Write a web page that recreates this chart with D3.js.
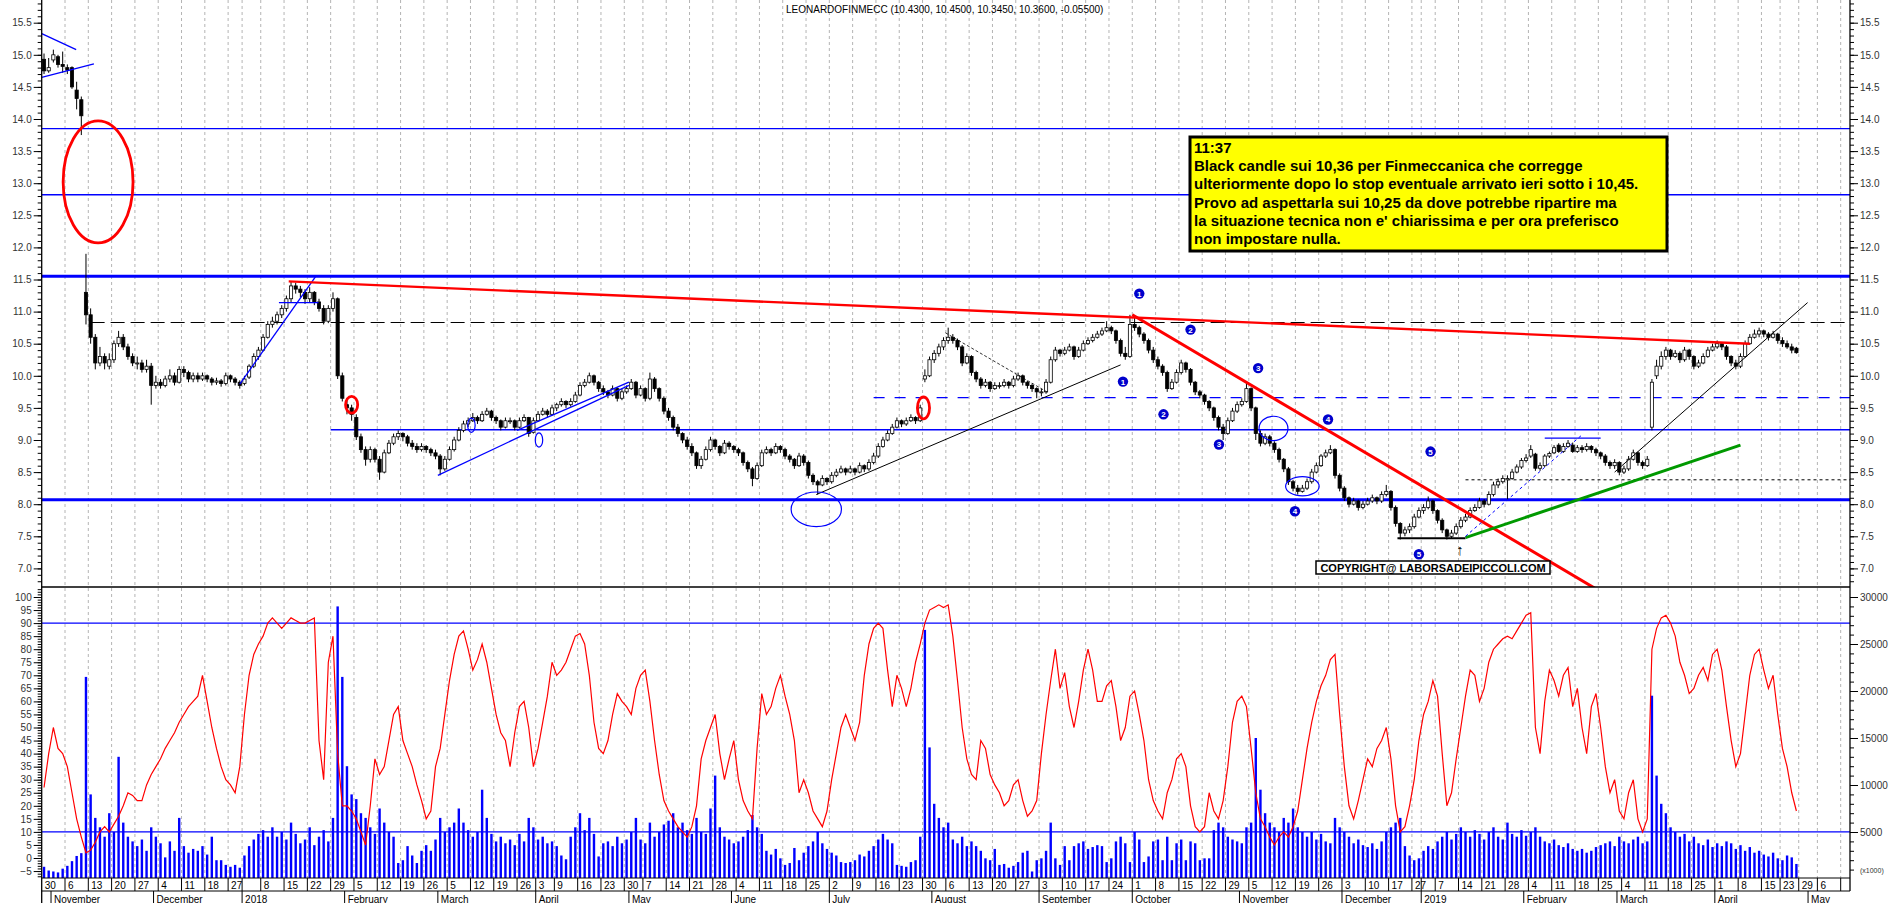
<!DOCTYPE html>
<html>
<head>
<meta charset="utf-8">
<script src="https://cdn.jsdelivr.net/npm/d3@7"></script>
<style>
  body { margin: 0; background: #fff; }
  text { font-family: "Liberation Sans", Arial, sans-serif; }
</style>
</head>
<body>
<div id="chart"></div>
<script>
// ---- data: daily candles, one entry per trading day from 30 Oct 2017 to 26 Apr 2019 ----
var opens = [
14.93,14.75,14.92,14.97,14.85,14.80,14.80,14.45,14.30,11.30,
10.95,10.60,10.20,10.30,10.15,10.25,10.50,10.60,10.45,10.30,
10.20,10.20,10.10,10.15,9.85,9.90,9.85,9.95,10.00,9.90,
10.10,10.05,9.95,10.00,9.95,10.00,9.95,9.90,9.92,9.88,
10.00,9.95,9.90,9.88,9.98,10.15,10.30,10.40,10.60,10.80,
10.85,10.95,11.05,11.20,11.40,11.35,11.30,11.20,11.30,11.15,
11.05,10.85,11.05,11.20,10.00,9.55,9.50,9.35,9.05,8.85,
8.70,8.85,8.70,8.50,8.80,8.95,9.05,9.10,9.05,8.95,
8.90,8.85,8.90,8.85,8.80,8.75,8.55,8.70,8.85,9.00,
9.15,9.25,9.30,9.35,9.30,9.40,9.45,9.35,9.30,9.20,
9.30,9.30,9.20,9.30,9.35,9.12,9.30,9.40,9.45,9.40,
9.50,9.55,9.60,9.55,9.60,9.70,9.85,9.90,10.00,9.90,
9.80,9.75,9.70,9.80,9.65,9.75,9.80,9.90,9.70,9.80,
9.65,9.95,9.80,9.65,9.45,9.35,9.20,9.10,9.00,8.90,
8.80,8.60,8.70,8.85,9.00,8.90,8.80,8.95,8.90,8.85,
8.80,8.65,8.55,8.40,8.60,8.80,8.85,8.80,8.90,8.85,
8.75,8.70,8.60,8.75,8.65,8.45,8.35,8.30,8.40,8.35,
8.45,8.50,8.55,8.50,8.55,8.50,8.60,8.55,8.65,8.75,
8.90,9.00,9.10,9.20,9.30,9.25,9.30,9.35,9.30,9.95,
10.00,10.25,10.35,10.45,10.55,10.60,10.55,10.45,10.20,10.30,
10.05,9.95,9.85,9.90,9.80,9.85,9.85,9.90,9.85,9.95,
10.00,9.90,9.85,9.80,9.75,9.75,9.90,10.25,10.40,10.35,
10.40,10.45,10.30,10.40,10.50,10.55,10.60,10.65,10.70,10.75,
10.70,10.55,10.35,10.30,10.80,10.75,10.65,10.55,10.40,10.25,
10.15,10.05,9.80,9.90,10.05,10.20,10.10,9.90,9.75,9.70,
9.60,9.50,9.35,9.20,9.10,9.30,9.45,9.55,9.60,9.80,
9.50,9.10,8.95,9.05,8.95,8.85,8.70,8.55,8.35,8.25,
8.20,8.25,8.35,8.50,8.60,8.75,8.80,8.85,8.45,8.25,
8.10,8.00,8.05,7.95,8.00,8.05,8.10,8.05,8.15,8.20,
7.95,7.70,7.55,7.60,7.65,7.80,7.90,7.95,8.05,7.90,
7.75,7.60,7.50,7.55,7.65,7.75,7.80,7.90,7.95,8.05,
8.00,8.15,8.30,8.35,8.38,8.40,8.50,8.58,8.68,8.75,
8.78,8.56,8.60,8.75,8.80,8.92,8.82,8.90,8.92,8.82,
8.88,8.85,8.90,8.85,8.80,8.75,8.65,8.60,8.65,8.50,
8.55,8.70,8.80,8.65,8.60,9.20,10.00,10.15,10.30,10.40,
10.30,10.35,10.25,10.40,10.30,10.15,10.20,10.30,10.40,10.45,
10.50,10.45,10.30,10.20,10.15,10.30,10.50,10.60,10.65,10.70,
10.65,10.60,10.65,10.55,10.50,10.45,10.43];

var highs = [
15.02,14.95,15.08,15.00,15.05,14.85,14.82,14.58,14.35,11.90,
11.05,10.65,10.45,10.35,10.35,10.55,10.70,10.65,10.50,10.35,
10.30,10.25,10.25,10.20,10.00,9.95,10.00,10.10,10.05,10.15,
10.15,10.08,10.05,10.05,10.05,10.02,9.98,9.97,9.95,10.05,
10.02,9.98,9.93,10.00,10.18,10.35,10.45,10.65,10.85,10.92,
11.00,11.10,11.25,11.47,11.45,11.40,11.35,11.38,11.32,11.20,
11.10,11.10,11.30,11.22,10.05,9.65,9.55,9.40,9.10,8.90,
8.90,8.88,8.75,8.85,9.00,9.10,9.15,9.12,9.08,9.00,
8.95,8.95,8.92,8.88,8.85,8.78,8.75,8.90,9.05,9.20,
9.30,9.35,9.42,9.38,9.45,9.50,9.47,9.38,9.32,9.35,
9.35,9.32,9.35,9.40,9.36,9.35,9.45,9.50,9.48,9.55,
9.58,9.65,9.62,9.65,9.75,9.90,9.95,10.05,10.02,9.92,
9.85,9.78,9.85,9.82,9.80,9.85,9.95,9.92,9.85,9.82,
10.05,9.98,9.82,9.68,9.50,9.38,9.25,9.12,9.05,8.95,
8.82,8.75,8.90,9.05,9.02,8.92,9.00,8.98,8.92,8.88,
8.82,8.68,8.58,8.65,8.85,8.90,8.88,8.95,8.92,8.88,
8.78,8.72,8.80,8.78,8.68,8.48,8.38,8.45,8.42,8.50,
8.55,8.60,8.57,8.60,8.57,8.65,8.62,8.70,8.80,8.95,
9.05,9.15,9.25,9.35,9.32,9.35,9.40,9.37,9.55,10.10,
10.30,10.40,10.50,10.60,10.75,10.65,10.58,10.48,10.35,10.32,
10.08,9.98,9.95,9.92,9.90,9.90,9.95,9.92,10.00,10.05,
10.02,9.92,9.88,9.82,9.80,9.95,10.30,10.45,10.42,10.45,
10.50,10.47,10.45,10.55,10.60,10.65,10.70,10.75,10.85,10.78,
10.72,10.58,10.45,10.95,10.90,10.78,10.68,10.58,10.45,10.30,
10.18,10.08,9.95,10.10,10.25,10.22,10.12,9.92,9.78,9.72,
9.62,9.52,9.38,9.25,9.35,9.50,9.60,9.65,9.90,9.82,
9.52,9.15,9.10,9.08,8.98,8.88,8.72,8.58,8.38,8.30,
8.30,8.40,8.55,8.65,8.78,8.85,8.92,8.87,8.48,8.28,
8.12,8.10,8.07,8.05,8.10,8.15,8.12,8.20,8.30,8.22,
7.98,7.72,7.65,7.70,7.85,7.95,8.00,8.12,8.07,7.92,
7.78,7.62,7.60,7.70,7.80,7.85,7.95,8.00,8.10,8.08,
8.20,8.35,8.40,8.45,8.45,8.55,8.62,8.72,8.78,8.92,
8.80,8.65,8.78,8.82,8.92,8.95,8.95,9.00,8.96,8.92,
8.92,8.95,8.92,8.88,8.82,8.78,8.68,8.70,8.67,8.60,
8.75,8.85,8.82,8.68,8.75,9.95,10.25,10.38,10.45,10.42,
10.40,10.38,10.45,10.42,10.32,10.25,10.35,10.45,10.50,10.55,
10.52,10.48,10.32,10.25,10.35,10.55,10.65,10.72,10.75,10.72,
10.68,10.70,10.67,10.60,10.55,10.50,10.45];

var lows = [
14.70,14.72,14.88,14.80,14.72,14.70,14.47,14.15,13.75,10.80,
10.50,10.10,10.15,10.10,10.10,10.20,10.45,10.40,10.25,10.15,
10.10,10.05,10.05,9.55,9.80,9.80,9.82,9.90,9.85,9.88,
9.98,9.90,9.90,9.90,9.92,9.90,9.85,9.86,9.83,9.85,
9.90,9.85,9.80,9.85,9.95,10.12,10.25,10.38,10.58,10.75,
10.80,10.90,11.00,11.15,11.28,11.22,11.12,11.15,11.10,11.00,
10.80,10.82,11.00,9.95,9.60,9.40,9.30,9.00,8.80,8.60,
8.65,8.65,8.38,8.48,8.78,8.92,9.00,8.98,8.90,8.85,
8.80,8.82,8.80,8.75,8.70,8.45,8.52,8.68,8.82,8.98,
9.12,9.20,9.28,9.25,9.28,9.38,9.30,9.25,9.15,9.18,
9.25,9.15,9.18,9.28,9.05,9.10,9.28,9.38,9.35,9.38,
9.45,9.52,9.50,9.52,9.58,9.68,9.82,9.88,9.85,9.75,
9.70,9.65,9.68,9.60,9.62,9.72,9.78,9.65,9.68,9.60,
9.62,9.75,9.60,9.40,9.30,9.15,9.05,8.95,8.85,8.75,
8.55,8.55,8.68,8.82,8.85,8.75,8.78,8.85,8.80,8.75,
8.60,8.50,8.28,8.38,8.58,8.78,8.75,8.78,8.80,8.70,
8.65,8.55,8.58,8.60,8.40,8.30,8.15,8.28,8.30,8.32,
8.42,8.48,8.45,8.48,8.45,8.48,8.50,8.52,8.62,8.72,
8.88,8.98,9.08,9.18,9.20,9.22,9.28,9.25,9.28,9.90,
9.98,10.20,10.30,10.40,10.50,10.50,10.40,10.15,10.18,10.00,
9.90,9.80,9.82,9.75,9.78,9.80,9.82,9.80,9.82,9.92,
9.85,9.80,9.75,9.65,9.68,9.72,9.88,10.22,10.30,10.32,
10.38,10.25,10.28,10.38,10.48,10.52,10.58,10.62,10.68,10.65,
10.50,10.30,10.25,10.28,10.70,10.60,10.50,10.35,10.20,10.10,
10.00,9.75,9.78,9.88,10.02,10.05,9.85,9.70,9.65,9.55,
9.45,9.30,9.15,9.00,9.08,9.28,9.42,9.52,9.58,9.45,
9.00,8.90,8.92,8.90,8.80,8.65,8.50,8.30,8.20,8.15,
8.18,8.22,8.32,8.48,8.58,8.72,8.78,8.40,8.20,8.05,
7.95,7.98,7.90,7.92,7.98,8.02,8.00,8.02,8.12,7.90,
7.65,7.45,7.50,7.55,7.62,7.78,7.85,7.92,7.85,7.70,
7.55,7.45,7.47,7.52,7.62,7.72,7.78,7.88,7.93,7.95,
7.98,8.12,8.25,8.32,8.07,8.38,8.48,8.55,8.65,8.72,
8.52,8.52,8.58,8.72,8.78,8.80,8.80,8.88,8.80,8.80,
8.80,8.82,8.80,8.75,8.70,8.60,8.55,8.55,8.45,8.47,
8.52,8.68,8.60,8.55,8.58,9.15,9.95,10.10,10.25,10.25,
10.28,10.20,10.22,10.25,10.10,10.12,10.18,10.28,10.38,10.42,
10.40,10.25,10.15,10.10,10.12,10.28,10.48,10.58,10.60,10.60,
10.55,10.58,10.50,10.45,10.42,10.35,10.345];

var closes = [
14.75,14.80,15.00,14.85,14.82,14.76,14.50,14.32,14.05,10.95,
10.60,10.20,10.30,10.20,10.25,10.50,10.60,10.45,10.30,10.20,
10.20,10.10,10.15,9.85,9.90,9.85,9.95,10.00,9.90,10.10,
10.05,9.95,10.00,9.95,10.00,9.95,9.90,9.92,9.88,10.00,
9.95,9.90,9.85,9.95,10.15,10.30,10.40,10.60,10.80,10.85,
10.95,11.05,11.20,11.40,11.35,11.30,11.20,11.30,11.15,11.05,
10.85,11.05,11.20,10.00,9.65,9.50,9.40,9.05,8.85,8.70,
8.85,8.70,8.50,8.80,8.95,9.05,9.10,9.05,8.95,8.90,
8.85,8.90,8.85,8.80,8.75,8.55,8.70,8.85,9.00,9.15,
9.25,9.30,9.35,9.30,9.40,9.45,9.35,9.30,9.20,9.30,
9.30,9.20,9.30,9.35,9.10,9.30,9.40,9.45,9.40,9.50,
9.55,9.60,9.55,9.60,9.70,9.85,9.90,10.00,9.90,9.80,
9.75,9.70,9.80,9.65,9.75,9.80,9.90,9.70,9.80,9.65,
9.95,9.80,9.65,9.45,9.35,9.20,9.10,9.00,8.90,8.80,
8.60,8.70,8.85,9.00,8.90,8.80,8.95,8.90,8.85,8.80,
8.65,8.55,8.40,8.60,8.80,8.85,8.80,8.90,8.85,8.75,
8.70,8.60,8.75,8.65,8.45,8.35,8.30,8.40,8.35,8.45,
8.50,8.55,8.50,8.55,8.50,8.60,8.55,8.65,8.75,8.90,
9.00,9.10,9.20,9.30,9.25,9.30,9.35,9.30,9.50,10.00,
10.25,10.35,10.45,10.55,10.60,10.55,10.45,10.20,10.30,10.05,
9.95,9.85,9.90,9.80,9.85,9.85,9.90,9.85,9.95,10.00,
9.90,9.85,9.80,9.75,9.75,9.90,10.25,10.40,10.35,10.40,
10.45,10.30,10.40,10.50,10.55,10.60,10.65,10.70,10.75,10.70,
10.55,10.35,10.30,10.80,10.75,10.65,10.55,10.40,10.25,10.15,
10.05,9.80,9.90,10.05,10.20,10.10,9.90,9.75,9.70,9.60,
9.50,9.35,9.20,9.10,9.30,9.45,9.55,9.60,9.80,9.50,
9.10,8.95,9.05,8.95,8.85,8.70,8.55,8.35,8.25,8.20,
8.25,8.35,8.50,8.60,8.75,8.80,8.85,8.45,8.25,8.10,
8.00,8.05,7.95,8.00,8.05,8.10,8.05,8.15,8.20,7.95,
7.70,7.55,7.60,7.65,7.80,7.90,7.95,8.05,7.90,7.75,
7.60,7.50,7.55,7.65,7.75,7.80,7.90,7.95,8.05,8.00,
8.15,8.30,8.35,8.40,8.40,8.50,8.58,8.68,8.72,8.85,
8.56,8.60,8.75,8.79,8.88,8.82,8.90,8.95,8.82,8.88,
8.85,8.90,8.85,8.80,8.75,8.65,8.60,8.65,8.50,8.55,
8.70,8.80,8.65,8.60,8.70,9.90,10.15,10.30,10.40,10.30,
10.35,10.25,10.40,10.30,10.15,10.20,10.30,10.40,10.45,10.50,
10.45,10.30,10.20,10.15,10.30,10.50,10.60,10.65,10.70,10.65,
10.60,10.65,10.55,10.50,10.45,10.40,10.36];

// volume in thousands of shares (right axis)
var volumes = [
1300,900,800,700,1100,1400,1900,2450,2750,21500,
9000,6500,5500,4500,7000,5000,13000,6000,4500,4000,
3500,4200,3000,5500,4500,3800,2300,4000,3000,6500,
3500,2800,3200,3000,3500,2600,4500,2000,2000,1500,
1300,1500,1200,2500,3500,4200,4800,5200,4500,5500,
4500,5000,4200,6000,4800,3800,4200,5500,3600,4500,
5200,4000,6500,29000,21500,12000,9000,8500,7000,6500,
5500,4800,7500,6000,5000,4500,1700,2000,3500,2500,
1700,3000,3600,3000,4200,6500,5000,5500,6000,7500,
6000,5200,4500,5000,9500,6500,4800,4000,4500,3800,
4200,3600,4800,4000,6500,5500,4200,4500,3800,4000,
3500,2500,2100,4500,5500,7000,5200,6500,4800,2400,
3800,4000,3500,4500,3800,4200,5000,6500,4200,3800,
6000,4500,5000,5800,6200,7000,5500,6000,5200,4800,
6500,5000,4800,7500,11000,5500,4500,4200,3800,4000,
4500,5200,6800,5500,4800,3000,2600,3200,2200,1500,
1700,3300,2000,2800,3500,4000,5000,3800,3200,2800,
2500,1800,1700,1800,2000,2600,2400,3000,3500,4200,
4800,4200,3800,1500,1400,1300,1800,2000,4500,26500,
14000,8000,6500,5500,6000,4200,3800,4500,3500,4000,
3500,3000,2200,2000,3200,1500,1600,1200,1400,1800,
2800,3000,800,2000,2200,3000,6000,2200,1500,3500,
2000,3500,3800,4000,3200,3400,3600,3500,1800,2200,
4000,4500,3800,1800,5000,4200,1800,2400,4000,4200,
2000,4500,2000,3800,4200,2000,4000,3800,2000,2200,
2200,5200,6000,5500,4500,4200,4000,3800,5500,6000,
15000,9500,7000,6000,5500,5000,6500,6000,7500,5500,
5000,4500,5000,4200,4800,4000,3800,6500,5500,5000,
4500,3800,4200,3600,3400,3800,3200,4000,5000,5500,
6000,6500,3500,2500,2000,2200,3000,3500,3200,4000,
4500,5000,4200,4800,5500,5000,4500,5200,4800,4200,
5000,5500,4500,4200,6000,4800,4500,5200,4600,5000,
5500,4500,4000,3800,4200,3600,3400,3800,3200,3000,
3200,2800,3000,3400,3600,3800,4000,3500,4500,4000,
3800,4200,4500,3800,4000,19500,11000,8000,7000,5500,
5000,4500,4800,4000,4500,3800,3600,4200,3400,3800,
3500,4000,3800,3200,3600,3000,3400,2800,3000,2600,
2400,2800,2200,2000,2500,2300,1600];

// oscillator (left axis of lower panel, 0-100)
var oscillator = [
27,40,50,42,40,35,25,15,8,2,
3,6,10,12,10,13,16,20,25,24,
22,22,28,32,35,38,42,45,48,52,
55,58,60,62,70,60,50,42,35,30,
28,25,35,55,70,78,82,85,90,92,
90,88,90,92,91,90,90,91,92,45,
30,75,85,40,20,20,18,15,10,5,
20,38,32,35,45,55,58,45,40,35,
28,22,15,18,35,42,55,68,78,85,
87,80,72,76,82,75,65,55,48,45,
35,48,58,60,50,35,42,52,62,75,
70,72,75,80,85,86,82,70,52,42,
40,45,55,63,60,58,55,65,70,72,
60,45,32,22,18,15,12,10,8,12,
20,38,45,50,55,40,30,38,45,30,
22,18,15,42,63,55,58,65,70,62,
55,45,25,30,25,18,15,12,18,30,
40,50,55,50,45,52,70,82,88,90,
88,72,58,70,65,58,65,75,82,90,
95,96,97,96,97,85,68,50,38,32,
30,45,42,32,28,25,20,22,28,30,
22,16,18,22,40,55,68,80,65,71,
58,50,60,72,80,72,60,60,66,68,
58,45,50,62,64,55,45,30,22,18,
15,25,30,38,40,35,20,12,10,12,
25,18,15,22,35,52,60,62,58,42,
25,15,12,8,5,8,10,8,12,18,
30,42,52,60,66,70,76,78,55,35,
20,15,22,30,38,35,42,45,50,38,
20,10,12,20,30,45,55,60,68,62,
40,20,25,38,50,62,72,70,60,65,
75,80,82,84,85,84,87,90,93,94,
50,40,60,72,68,62,70,73,58,65,
50,40,58,63,50,35,25,30,18,15,
25,30,15,10,15,80,88,92,93,90,
85,75,70,63,65,70,73,68,78,80,
72,58,45,35,40,55,70,78,80,72,
65,70,55,42,35,25,18];

// exchange holidays (no trading) and month names for the time axis
var holidays = ["2017-12-25","2017-12-26","2018-01-01","2018-03-30","2018-04-02","2018-05-01",
  "2018-12-24","2018-12-25","2018-12-26","2018-12-31","2019-01-01","2019-04-19","2019-04-22","2019-05-01"];
var monthNames = ["January","February","March","April","May","June","July","August",
  "September","October","November","December"];

// horizontal levels drawn on the price panel: price, first day index, last day index, kind
var levels = [
  [13.85, -0.5, 387.5, "blue"],
  [12.82, -0.5, 387.5, "blue"],
  [11.55, -0.5, 387.5, "blueThick"],
  [10.83, 10, 387.5, "blackDash"],
  [9.66, 178, 387.5, "blueDash"],
  [9.16, 61.5, 387.5, "blue"],
  [8.38, 305, 387.5, "blackDot"],
  [8.07, -0.5, 387.5, "blueThick"],
  [9.03, 322, 334, "blue"]
];

// trend lines: kind, day index 1, price 1, day index 2, price 2
var trendLines = [
  ["blue", -0.5, 15.33, 6.9, 15.08],
  ["blue", -0.5, 14.65, 10.7, 14.86],
  ["blue", 42, 9.87, 58.3, 11.55],
  ["blue", 50.4, 11.14, 58.9, 11.14],
  ["blue", 84.5, 8.45, 125.5, 9.85],
  ["blue", 101.5, 9.15, 125.5, 9.90],
  ["black", 165.7, 8.15, 231, 10.17],
  ["blackThinDash", 193.4, 10.67, 215.4, 9.74],
  ["red", 52.5, 11.47, 366, 10.50],
  ["redThick", 233.5, 10.95, 340, 6.38],
  ["green", 305, 7.48, 364, 8.92],
  ["blueDot", 305, 7.50, 330, 9.08],
  ["blackThick", 290.4, 7.47, 305, 7.47],
  ["black", 337, 8.50, 378.4, 11.14]
];

// ellipses: kind, centre day index, centre price, half width (days), half height (price)
var ellipses = [
  ["red", 11.6, 13.02, 7.5, 0.95],
  ["red", 66, 9.55, 1.3, 0.13],
  ["red", 188.7, 9.50, 1.3, 0.17],
  ["blue", 165.7, 7.92, 5.4, 0.27],
  ["blue", 263.8, 9.18, 3.1, 0.19],
  ["blue", 270, 8.28, 3.6, 0.15],
  ["blue", 91.7, 9.23, 0.8, 0.11],
  ["blue", 106.2, 9.00, 0.8, 0.11]
];

// numbered wave markers: label, day index, price
var waveMarks = [
  ["1", 235, 11.28], ["2", 246, 10.72], ["3", 260.5, 10.12], ["4", 275.5, 9.32], ["5", 297.5, 8.82],
  ["1", 231.5, 9.91], ["2", 240.2, 9.40], ["3", 252.1, 8.93], ["4", 268.4, 7.89], ["5", 295, 7.22]
];

var titleText = "LEONARDOFINMECC (10.4300, 10.4500, 10.3450, 10.3600, -0.05500)";
var noteLines = [
  "11:37",
  "Black candle sui 10,36 per Finmeccanica che corregge",
  "ulteriormente dopo lo stop eventuale arrivato ieri sotto i 10,45.",
  "Provo ad aspettarla sui 10,25 da dove potrebbe ripartire ma",
  "la situazione tecnica non e' chiarissima e per ora preferisco",
  "non impostare nulla."
];
var copyrightText = "COPYRIGHT@ LABORSADEIPICCOLI.COM";

// ---- layout ----
var W = 1890, H = 903;
var xLeft = 41.7, xRight = 1850;
var priceBottom = 587, volBottom = 878, dayRowBottom = 891;

var svg = d3.select("#chart").append("svg")
  .attr("width", W).attr("height", H)
  .style("font-family", "'Liberation Sans', Arial, sans-serif");

// trading days (dates for each index, including a few future days at the right)
var fmtDay = d3.timeFormat("%Y-%m-%d");
var days = [];
var cur = new Date(2017, 9, 30);
while (days.length < 388) {
  var wd = cur.getDay();
  if (wd != 0 && wd != 6 && holidays.indexOf(fmtDay(cur)) < 0) days.push(new Date(cur));
  cur.setDate(cur.getDate() + 1);
}

var x = d3.scaleLinear().domain([-0.5, 387.5]).range([xLeft, xRight]);
var y = d3.scaleLinear().domain([15.5, 7.0]).range([22.7, 568.4]);
var yOsc = d3.scaleLinear().domain([100, 0]).range([597, 858]);
var yVol = d3.scaleLinear().domain([0, 30000]).range([879, 597]);

var n = Math.min(opens.length, highs.length, lows.length, closes.length);

// clip paths
var defs = svg.append("defs");
defs.append("clipPath").attr("id", "clipPrice").append("rect")
  .attr("x", xLeft).attr("y", 0).attr("width", xRight - xLeft).attr("height", priceBottom);
defs.append("clipPath").attr("id", "clipVol").append("rect")
  .attr("x", xLeft).attr("y", priceBottom).attr("width", xRight - xLeft).attr("height", volBottom - priceBottom);

// week and month starts
var weekStarts = [], monthStarts = [];
days.forEach(function (d, i) {
  if (i == 0 || +d3.timeMonday.floor(d) != +d3.timeMonday.floor(days[i - 1])) weekStarts.push(i);
  if (i > 0 && d.getMonth() != days[i - 1].getMonth()) monthStarts.push(i);
});

// vertical dashed grid
svg.append("g").selectAll("line")
  .data(weekStarts.filter(function (i) { return i > 0; }))
  .enter().append("line")
  .attr("x1", function (i) { return x(i - 0.5); })
  .attr("x2", function (i) { return x(i - 0.5); })
  .attr("y1", 0).attr("y2", volBottom)
  .attr("stroke", "#b4b4b4").attr("stroke-width", 1).attr("stroke-dasharray", "3,3");

var styles = {
  blue: { c: "#0000ff", w: 1.3 },
  blueThick: { c: "#0000ff", w: 3 },
  blackDash: { c: "#000", w: 1, d: "14,6" },
  blueDash: { c: "#0000ff", w: 1.3, d: "11,10" },
  blackDot: { c: "#000", w: 1, d: "3,3" },
  blackThinDash: { c: "#000", w: 0.8, d: "3,2" },
  black: { c: "#000", w: 1 },
  blackThick: { c: "#000", w: 2.2 },
  red: { c: "#ff0000", w: 2.4 },
  redThick: { c: "#ff0000", w: 3 },
  green: { c: "#009900", w: 3 },
  blueDot: { c: "#0000ff", w: 1, d: "3,3" }
};

var pricePanel = svg.append("g").attr("clip-path", "url(#clipPrice)");

// horizontal levels (behind the candles)
pricePanel.append("g").selectAll("line").data(levels).enter().append("line")
  .attr("x1", function (d) { return x(d[1]); })
  .attr("x2", function (d) { return x(d[2]); })
  .attr("y1", function (d) { return y(d[0]); })
  .attr("y2", function (d) { return y(d[0]); })
  .attr("stroke", function (d) { return styles[d[3]].c; })
  .attr("stroke-width", function (d) { return styles[d[3]].w; })
  .attr("stroke-dasharray", function (d) { return styles[d[3]].d || null; });

// candles
var candle = pricePanel.append("g").selectAll("g").data(d3.range(n)).enter().append("g");
candle.append("line")
  .attr("x1", function (i) { return x(i); }).attr("x2", function (i) { return x(i); })
  .attr("y1", function (i) { return y(highs[i]); }).attr("y2", function (i) { return y(lows[i]); })
  .attr("stroke", "#000").attr("stroke-width", 1);
candle.append("rect")
  .attr("x", function (i) { return x(i) - 1.6; })
  .attr("width", 3.2)
  .attr("y", function (i) { return y(Math.max(opens[i], closes[i])); })
  .attr("height", function (i) { return Math.max(1, Math.abs(y(opens[i]) - y(closes[i]))); })
  .attr("fill", function (i) { return closes[i] >= opens[i] ? "#fff" : "#000"; })
  .attr("stroke", "#000").attr("stroke-width", 0.8);

// trend lines
pricePanel.append("g").selectAll("line").data(trendLines).enter().append("line")
  .attr("x1", function (d) { return x(d[1]); }).attr("y1", function (d) { return y(d[2]); })
  .attr("x2", function (d) { return x(d[3]); }).attr("y2", function (d) { return y(d[4]); })
  .attr("stroke", function (d) { return styles[d[0]].c; })
  .attr("stroke-width", function (d) { return styles[d[0]].w; })
  .attr("stroke-dasharray", function (d) { return styles[d[0]].d || null; });

// ellipses
pricePanel.append("g").selectAll("ellipse").data(ellipses).enter().append("ellipse")
  .attr("cx", function (d) { return x(d[1]); })
  .attr("cy", function (d) { return y(d[2]); })
  .attr("rx", function (d) { return x(d[1] + d[3]) - x(d[1]); })
  .attr("ry", function (d) { return y(d[2] - d[4]) - y(d[2]); })
  .attr("fill", "none")
  .attr("stroke", function (d) { return d[0] == "red" ? "#ff0000" : "#0000ff"; })
  .attr("stroke-width", function (d) { return d[0] == "red" ? 2.8 : 1.2; });

// wave markers
var mk = pricePanel.append("g").selectAll("g").data(waveMarks).enter().append("g")
  .attr("transform", function (d) { return "translate(" + x(d[1]) + "," + y(d[2]) + ")"; });
mk.append("circle").attr("r", 5.2).attr("fill", "#0000cc");
mk.append("text").attr("text-anchor", "middle").attr("dy", "3")
  .attr("fill", "#fff").attr("font-size", "8px").attr("font-weight", "bold")
  .text(function (d) { return d[0]; });

// arrow under the January low
pricePanel.append("text").attr("x", x(303.8)).attr("y", y(7.30) + 6)
  .attr("text-anchor", "middle").attr("font-size", "15px").attr("font-weight", "bold")
  .text("\u2191");

// copyright box
svg.append("rect").attr("x", 1316).attr("y", 561).attr("width", 234).attr("height", 13)
  .attr("fill", "#fff").attr("stroke", "#000").attr("stroke-width", 1.5);
svg.append("text").attr("x", 1433).attr("y", 571.6).attr("text-anchor", "middle")
  .attr("font-size", "11px").attr("font-weight", "bold").text(copyrightText);

// ---- lower panel ----
var volPanel = svg.append("g").attr("clip-path", "url(#clipVol)");
volPanel.append("g").selectAll("rect").data(volumes.slice(0, n)).enter().append("rect")
  .attr("x", function (v, i) { return x(i) - 1.2; })
  .attr("width", 2.4)
  .attr("y", function (v) { return yVol(v); })
  .attr("height", function (v) { return volBottom - yVol(v); })
  .attr("fill", "#0000ff");

[90, 10].forEach(function (v) {
  volPanel.append("line").attr("x1", xLeft).attr("x2", xRight)
    .attr("y1", yOsc(v)).attr("y2", yOsc(v))
    .attr("stroke", "#0000ff").attr("stroke-width", 1.2);
});

volPanel.append("path")
  .datum(oscillator.slice(0, n))
  .attr("d", d3.line().x(function (v, i) { return x(i); }).y(function (v) { return yOsc(v); }))
  .attr("fill", "none").attr("stroke", "#ff0000").attr("stroke-width", 1.2);

// panel frame lines
svg.append("line").attr("x1", xLeft).attr("x2", xRight).attr("y1", priceBottom).attr("y2", priceBottom)
  .attr("stroke", "#000").attr("stroke-width", 1.3);
svg.append("line").attr("x1", xLeft).attr("x2", xRight).attr("y1", volBottom).attr("y2", volBottom)
  .attr("stroke", "#000").attr("stroke-width", 1);
svg.append("line").attr("x1", xLeft).attr("x2", xRight).attr("y1", dayRowBottom).attr("y2", dayRowBottom)
  .attr("stroke", "#000").attr("stroke-width", 1);
svg.append("line").attr("x1", xLeft).attr("x2", xLeft).attr("y1", 0).attr("y2", H)
  .attr("stroke", "#000").attr("stroke-width", 1.3);
svg.append("line").attr("x1", xRight).attr("x2", xRight).attr("y1", 0).attr("y2", dayRowBottom)
  .attr("stroke", "#000").attr("stroke-width", 1.3);

// ---- value axes ----
function valueAxis(axisFn, scale, majors, minors, fmt, tx) {
  var g = svg.append("g").attr("transform", "translate(" + tx + ",0)");
  var gm = g.append("g").call(axisFn(scale).tickValues(minors).tickFormat("").tickSize(4));
  gm.select(".domain").remove();
  var gM = g.append("g").call(axisFn(scale).tickValues(majors).tickFormat(fmt).tickSize(8).tickPadding(2));
  gM.select(".domain").remove();
  g.selectAll("text").attr("fill", "#333").attr("font-size", "10px")
    .attr("font-family", "'Liberation Sans', Arial, sans-serif");
  return g;
}
var priceMajor = d3.range(70, 156, 5).map(function (v) { return v / 10; });
var priceMinor = d3.range(68, 159).map(function (v) { return v / 10; });
valueAxis(d3.axisLeft, y, priceMajor, priceMinor, d3.format(".1f"), xLeft);
valueAxis(d3.axisRight, y, priceMajor, priceMinor, d3.format(".1f"), xRight);
valueAxis(d3.axisLeft, yOsc, d3.range(-5, 101, 5), d3.range(-7, 104), d3.format("d"), xLeft);
valueAxis(d3.axisRight, yVol, d3.range(5000, 30001, 5000), d3.range(1000, 31000, 1000), d3.format("d"), xRight);
svg.append("text").attr("x", xRight + 10).attr("y", 873).attr("font-size", "7px").attr("fill", "#333")
  .text("(x1000)");

// ---- time axis ----
var axisG = svg.append("g");
axisG.selectAll("line.wk").data(weekStarts.filter(function (i) { return i > 0; })).enter().append("line")
  .attr("x1", function (i) { return x(i - 0.5); }).attr("x2", function (i) { return x(i - 0.5); })
  .attr("y1", volBottom).attr("y2", dayRowBottom).attr("stroke", "#000");
axisG.selectAll("text.wk").data(weekStarts.filter(function (i) {
    var firstOfYear = i > 0 && days[i].getFullYear() != days[i - 1].getFullYear();
    return !firstOfYear && x(i - 0.5) < xRight - 12;
  })).enter().append("text")
  .attr("x", function (i) { return x(i - 0.5) + 3; })
  .attr("y", 888.5).attr("font-size", "10px").attr("fill", "#000")
  .text(function (i) { return days[i].getDate(); });
axisG.selectAll("line.mo").data(monthStarts).enter().append("line")
  .attr("x1", function (i) { return x(i - 0.5); }).attr("x2", function (i) { return x(i - 0.5); })
  .attr("y1", dayRowBottom).attr("y2", H).attr("stroke", "#000");
axisG.selectAll("text.mo").data(monthStarts.filter(function (i) { return x(i - 0.5) < xRight - 12; }))
  .enter().append("text")
  .attr("x", function (i) { return x(i - 0.5) + 3; })
  .attr("y", 902.5).attr("font-size", "10px").attr("fill", "#000")
  .text(function (i) {
    var d = days[i];
    return d.getMonth() == 0 ? d.getFullYear() : monthNames[d.getMonth()];
  });

// ---- title ----
svg.append("text").attr("x", 786).attr("y", 12.5).attr("font-size", "10px").attr("fill", "#000")
  .text(titleText);

// ---- yellow comment box ----
var boxX = 1190, boxY = 137, boxW = 477, boxH = 114;
svg.append("rect").attr("x", boxX).attr("y", boxY).attr("width", boxW).attr("height", boxH)
  .attr("fill", "#ffff00").attr("stroke", "#000").attr("stroke-width", 3);
var noteG = svg.append("g");
var notes = noteG.selectAll("text").data(noteLines).enter().append("text")
  .attr("x", boxX + 4)
  .attr("y", function (d, i) { return boxY + 16 + i * 18.2; })
  .attr("font-size", "15px").attr("font-weight", "bold").attr("fill", "#000")
  .text(function (d) { return d; });
var maxW = 0;
notes.each(function () { maxW = Math.max(maxW, this.getComputedTextLength()); });
if (maxW > boxW - 8) notes.attr("font-size", (15 * (boxW - 8) / maxW).toFixed(2) + "px");
</script>
</body>
</html>
